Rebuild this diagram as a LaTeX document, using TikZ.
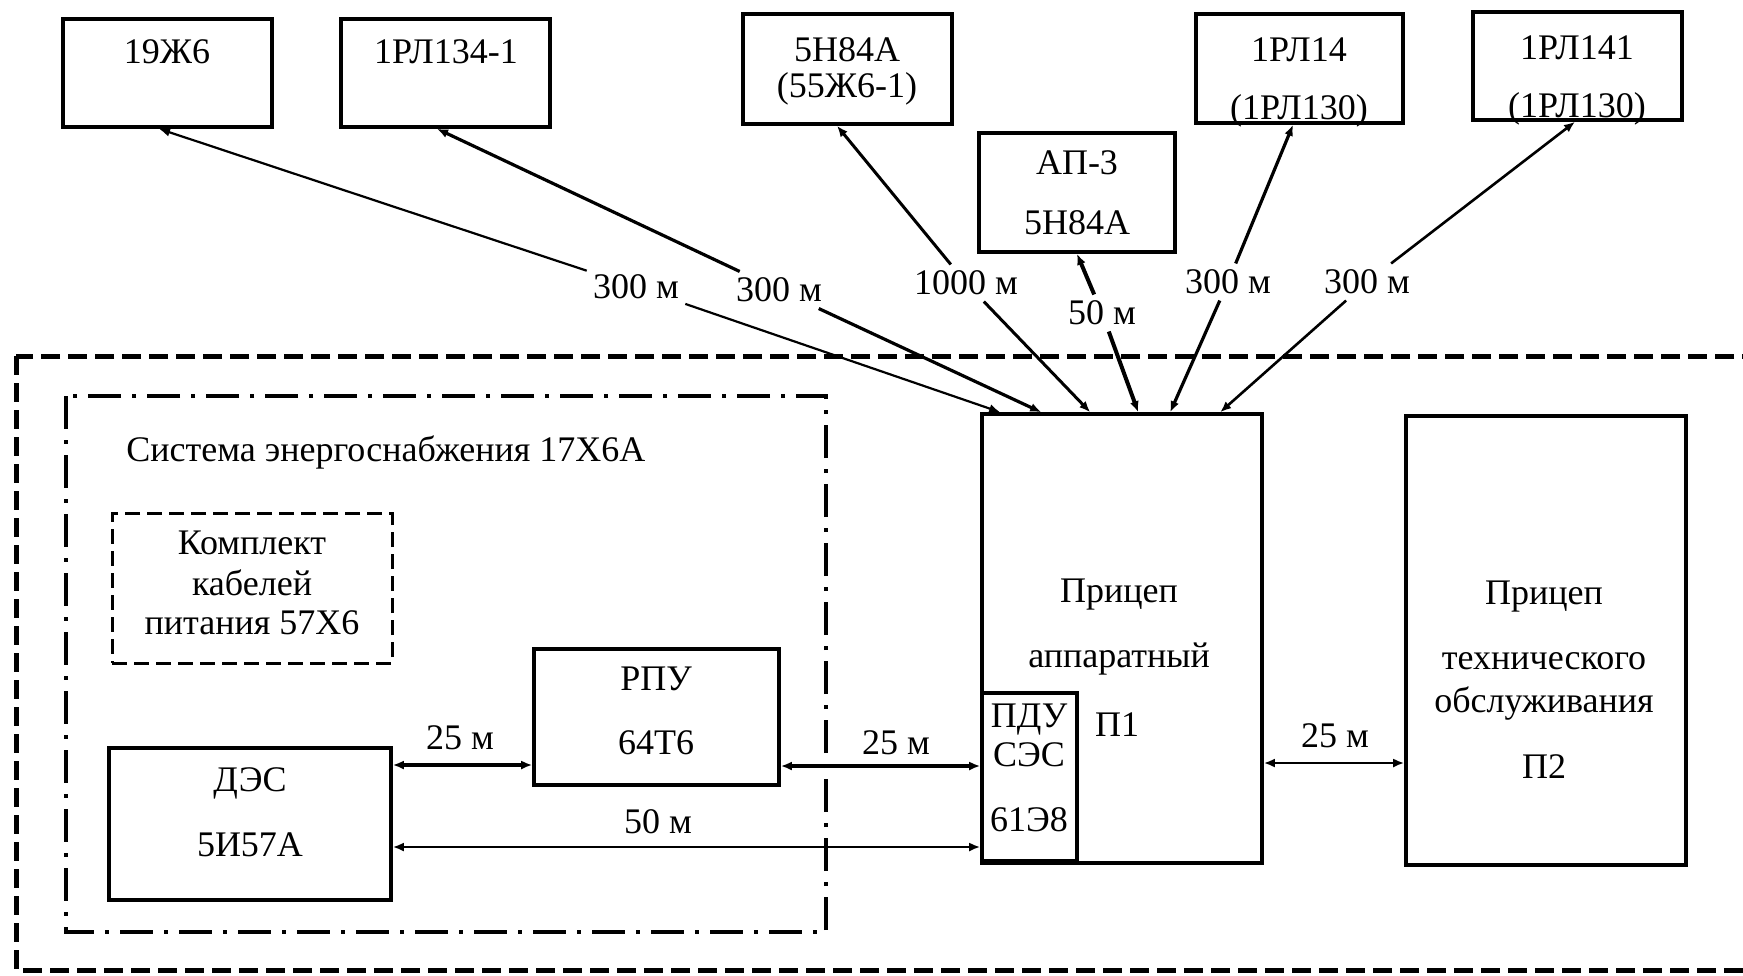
\documentclass[tikz,border=0pt]{standalone}
\usepackage{fontspec}
\setmainfont{Liberation Serif}
\usetikzlibrary{arrows.meta,fit}
\begin{document}
\begin{tikzpicture}[x=0.5pt,y=-0.5pt,
  box/.style={draw,line width=1.8pt,inner sep=0pt},
  kitbox/.style={draw,line width=1.5pt,dash pattern=on 7.5pt off 3.5pt,inner sep=0pt},
  txt/.style={inner sep=0pt,font=\fontsize{18}{21}\selectfont},
  lbl/.style={txt,inner sep=3pt},
  harr/.style={line width=#1,{Latex[length=5.5pt,width=4.5pt]}-{Latex[length=5.5pt,width=4.5pt]}},
  tarr/.style={line width=#1,-{Latex[length=5.5pt,width=4.5pt]}},
]
\useasboundingbox (0,0) rectangle (1743,975);
\clip (0,0) rectangle (1743,975);

% outer dashed frame
\draw[line width=2.5pt,dash pattern=on 9.5pt off 4pt] (16,356) rectangle (1800,970);
% power system dash-dot frame
\draw[line width=2pt,dash pattern=on 16.5pt off 5.5pt on 2pt off 5.5pt] (66,396) rectangle (826,932);
\node[txt,anchor=west] (title) at (126,452) {Система энергоснабжения 17Х6А};

% top boxes
\node[box,fit={(63,19)(272,127)}] (b1) {};
\node[txt] (b1t) at (167,52) {19Ж6};
\node[box,fit={(341,19)(550,127)}] (b2) {};
\node[txt] (b2t) at (446,52) {1РЛ134-1};
\node[box,fit={(743,14)(952,124)}] (b3) {};
\node[txt] (b3t) at (847,50) {5Н84А};
\node[txt] (b3u) at (847,89) {(55Ж6-1)};
\node[box,fit={(979,133)(1175,252)}] (b4) {};
\node[txt] (b4t) at (1077,163) {АП-3};
\node[txt] (b4u) at (1077,223) {5Н84А};
\node[box,fit={(1196,14)(1403,123)}] (b5) {};
\node[txt] (b5t) at (1299,50) {1РЛ14};
\node[txt] (b5u) at (1299,111) {(1РЛ130)};
\node[box,fit={(1473,12)(1682,120)}] (b6) {};
\node[txt] (b6t) at (1577,48) {1РЛ141};
\node[txt] (b6u) at (1577,109) {(1РЛ130)};

% trailers
\node[box,fit={(982,414)(1262,863)}] (p1) {};
\node[txt] (p1a) at (1119,595) {Прицеп};
\node[txt] (p1b) at (1119,659) {аппаратный};
\node[txt] (p1c) at (1117,725) {П1};
\node[box,fit={(982,693)(1077,861)}] (pdu) {};
\node[txt] (pdua) at (1029,720) {ПДУ};
\node[txt] (pdub) at (1029,755) {СЭС};
\node[txt] (pduc) at (1029,820) {61Э8};
\node[box,fit={(1406,416)(1686,865)}] (p2) {};
\node[txt] (p2a) at (1544,597) {Прицеп};
\node[txt] (p2b) at (1544,661) {технического};
\node[txt] (p2c) at (1544,703) {обслуживания};
\node[txt] (p2d) at (1544,767) {П2};

% power system contents
\node[kitbox,fit={(112,513)(392,663)}] (kit) {};
\node[txt] (kita) at (252,543) {Комплект};
\node[txt] (kitb) at (252,583) {кабелей};
\node[txt] (kitc) at (252,623) {питания 57Х6};
\node[box,fit={(534,649)(779,785)}] (rpu) {};
\node[txt] (rpua) at (656,679) {РПУ};
\node[txt] (rpub) at (656,743) {64Т6};
\node[box,fit={(109,748)(391,900)}] (des) {};
\node[txt] (desa) at (250,783) {ДЭС};
\node[txt] (desb) at (250,845) {5И57А};

% horizontal links
\coordinate (yA) at (0,765);
\coordinate (yB) at (0,766);
\coordinate (yC) at (0,847);
\coordinate (yD) at (0,763);
\draw[harr=2pt] (des.east |- yA) -- (rpu.west |- yA);
\node[txt] (lA) at (460,738) {25 м};
\draw[harr=2pt] (rpu.east |- yB) -- (pdu.west |- yB);
\node[txt] (lB) at (896,743) {25 м};
\draw[harr=1.4pt] (des.east |- yC) -- (pdu.west |- yC);
\node[txt] (lC) at (658,822) {50 м};
\draw[harr=1.4pt] (p1.east |- yD) -- (p2.west |- yD);
\node[txt] (lD) at (1335,736) {25 м};

% top links, split by their labels
\node[lbl] (t1) at (636,287) {300 м};
\draw[tarr=1.1pt] (t1) -- ([xshift=-4.25pt]b1.south);
\draw[tarr=1.1pt] (t1) -- ([xshift=10pt]p1.north west);
\node[lbl] (t2) at (779,290) {300 м};
\draw[tarr=1.6pt] (t2) -- ([xshift=-4.25pt]b2.south);
\draw[tarr=1.6pt] (t2) -- ([xshift=30.5pt]p1.north west);
\node[lbl] (t3) at (966,283) {1000 м};
\draw[tarr=1.5pt] (t3) -- ([xshift=-5.25pt]b3.south);
\draw[tarr=1.5pt] (t3) -- ([xshift=55pt]p1.north west);
\node[lbl] (t4) at (1102,313) {50 м};
\draw[tarr=2pt] (t4) -- (b4.south);
\draw[tarr=2pt] (t4) -- ([xshift=79pt]p1.north west);
\node[lbl] (t5) at (1228,282) {300 м};
\draw[tarr=1.6pt] (t5) -- ([xshift=-3.25pt]b5.south);
\draw[tarr=1.6pt] (t5) -- ([xshift=95pt]p1.north west);
\node[lbl] (t6) at (1367,282) {300 м};
\draw[tarr=1.3pt] (t6) -- ([xshift=-1.25pt]b6.south);
\draw[tarr=1.3pt] (t6) -- ([xshift=120pt]p1.north west);
\end{tikzpicture}
\end{document}
